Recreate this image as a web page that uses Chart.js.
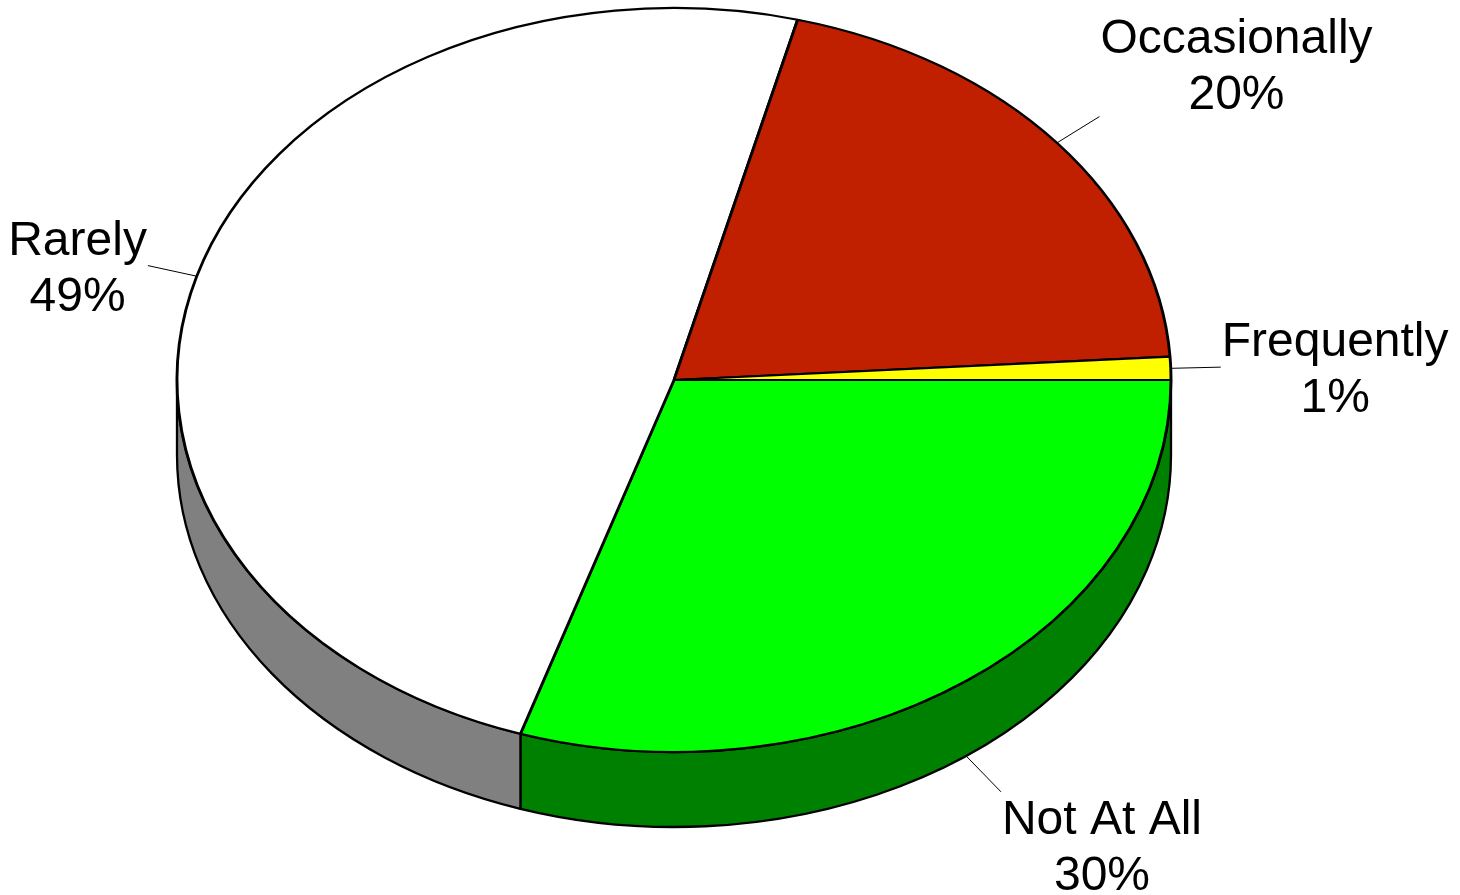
<!DOCTYPE html>
<html>
<head>
<meta charset="utf-8">
<script src="https://cdn.jsdelivr.net/npm/chart.js@4.4.1/dist/chart.umd.min.js"></script>
<style>
  html, body { margin: 0; padding: 0; background: #ffffff; overflow: hidden; }
  canvas { display: block; }
</style>
</head>
<body>
<canvas id="chart" width="1460" height="895"></canvas>
<script>
// Survey answers, drawn clockwise from the right-hand side of the pie
const categories = ['Not At All', 'Rarely', 'Occasionally', 'Frequently'];
const shares = [30, 49, 20, 1];

// Face colours and the darker colours of the visible rim
const faceColors = ['#00FF00', '#FFFFFF', '#C02000', '#FFFF00'];
const sideColors = ['#008000', '#808080', '#602000', '#808000'];

// Projection of the round pie onto a tilted disc
const PIE = { cx: 674, cy: 380, rx: 497, ry: 372, depth: 75 };
const LEADER = 50;
const FONT_SIZE = 48;
const LINE_GAP = 56;
const LABEL_PAD = 8;
const FONT = FONT_SIZE + 'px "Liberation Sans", Arial, sans-serif';

function drawRim(chart) {
  const ctx = chart.ctx;
  const meta = chart.getDatasetMeta(0);
  ctx.save();
  ctx.lineWidth = 2.3;
  ctx.strokeStyle = '#000000';
  ctx.lineJoin = 'round';
  meta.data.forEach((arc, i) => {
    const s = arc.startAngle, e = arc.endAngle;
    // only the near half (angles 0..PI, facing the viewer) shows its rim
    for (const base of [-2 * Math.PI, 0, 2 * Math.PI]) {
      const a1 = Math.max(s, base);
      const a2 = Math.min(e, base + Math.PI);
      if (a2 <= a1) continue;
      ctx.beginPath();
      ctx.ellipse(PIE.cx, PIE.cy, PIE.rx, PIE.ry, 0, a1, a2, false);
      ctx.ellipse(PIE.cx, PIE.cy + PIE.depth, PIE.rx, PIE.ry, 0, a2, a1, true);
      ctx.closePath();
      ctx.fillStyle = sideColors[i];
      ctx.fill();
      ctx.stroke();
    }
  });
  ctx.restore();
}

function drawLabels(chart) {
  const ctx = chart.ctx;
  const meta = chart.getDatasetMeta(0);
  const total = shares.reduce((a, b) => a + b, 0);
  ctx.save();
  ctx.font = FONT;
  meta.data.forEach((arc, i) => {
    const mid = (arc.startAngle + arc.endAngle) / 2;
    const lower = Math.sin(mid) > 0;
    const oy = PIE.cy + (lower ? PIE.depth : 0);
    const ax = PIE.cx + PIE.rx * Math.cos(mid);
    const ay = oy + PIE.ry * Math.sin(mid);
    const dx = ax - PIE.cx, dy = ay - oy;
    const len = Math.hypot(dx, dy);
    const ex = ax + dx / len * LEADER;
    const ey = ay + dy / len * LEADER;

    ctx.beginPath();
    ctx.moveTo(ax, ay);
    ctx.lineTo(ex, ey);
    ctx.strokeStyle = '#000000';
    ctx.lineWidth = 1;
    ctx.stroke();

    const lines = [categories[i], Math.round(shares[i] / total * 100) + '%'];
    const w = Math.max(...lines.map(t => ctx.measureText(t).width));
    const capH = FONT_SIZE * 0.716;
    const h = capH + LINE_GAP * (lines.length - 1) + 2 * LABEL_PAD;
    const sx = Math.sign(dx);
    const sy = Math.abs(dy / dx) > 0.5 ? Math.sign(dy) : 0;
    const left = sx > 0 ? ex + 1 : ex - 1 - w;
    const top = sy < 0 ? ey - h : (sy > 0 ? ey : ey - h / 2);

    ctx.fillStyle = '#000000';
    ctx.textAlign = 'center';
    ctx.textBaseline = 'alphabetic';
    lines.forEach((t, k) => {
      ctx.fillText(t, left + w / 2, top + LABEL_PAD + capH + k * LINE_GAP);
    });
  });
  ctx.restore();
}

const tiltedPie = {
  id: 'tiltedPie',
  beforeDatasetsDraw(chart) {
    drawRim(chart);
    const arc0 = chart.getDatasetMeta(0).data[0];
    const ctx = chart.ctx;
    ctx.save();
    ctx.translate(PIE.cx, PIE.cy);
    ctx.scale(PIE.rx / arc0.outerRadius, PIE.ry / arc0.outerRadius);
    ctx.translate(-arc0.x, -arc0.y);
  },
  afterDatasetsDraw(chart) {
    chart.ctx.restore();
    drawLabels(chart);
  }
};

new Chart(document.getElementById('chart'), {
  type: 'pie',
  data: {
    labels: categories,
    datasets: [{
      data: shares,
      backgroundColor: faceColors,
      borderColor: '#000000',
      borderWidth: 2.6,
      clip: false
    }]
  },
  options: {
    responsive: false,
    animation: false,
    events: [],
    rotation: 90,
    layout: { padding: 0 },
    plugins: {
      legend: { display: false },
      tooltip: { enabled: false }
    }
  },
  plugins: [tiltedPie]
});
</script>
</body>
</html>
